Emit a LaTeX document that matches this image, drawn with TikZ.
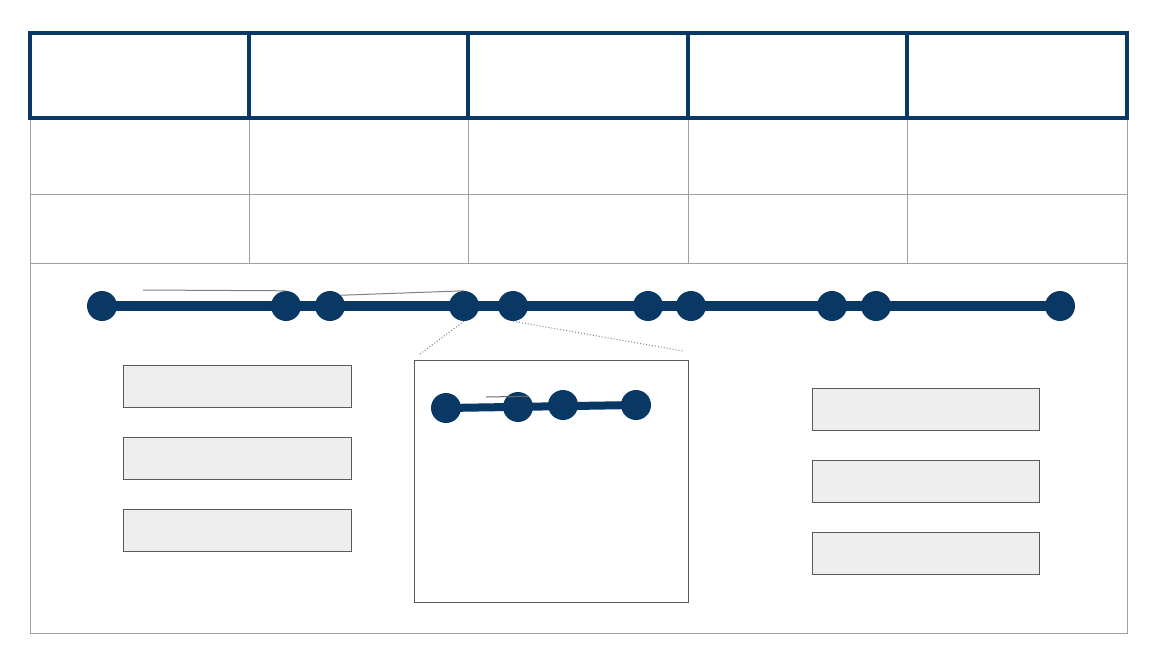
\documentclass[tikz,border=0pt]{standalone}
\usepackage{tikz}
\usepackage{xcolor}
\definecolor{navy}{RGB}{8,56,99}
\definecolor{boxgray}{RGB}{238,238,238}
\definecolor{rulegray}{RGB}{160,160,160}
\newcommand{\schedulegrid}[1]{
\draw[rulegray,line width=1pt] (30,118) rectangle (1127,633);
\draw[rulegray,line width=1pt] (30,194)--(1127,194) (30,263)--(1127,263);
\foreach \x in {#1}{
\draw[rulegray,line width=1pt] (\x,118)--(\x,263);}
\draw[navy,line width=4pt] (30,33) rectangle (1127,118);
\foreach \x in {#1}{
\draw[navy,line width=4pt] (\x,33)--(\x,118);}}

\begin{document}
\begin{tikzpicture}[x=1pt,y=-1pt,
  dot/.style={circle,fill=navy,inner sep=0pt,minimum size=30pt},
  panel/.style={draw=black!65,fill=boxgray,line width=1pt,inner sep=0pt,minimum width=228pt,minimum height=42pt}]
\useasboundingbox (0,0) rectangle (1158,657);
\schedulegrid{249,468,688,907}
%main timeline
\foreach \x [count=\i] in {102,286,330,464,513,648,691,832,876,1060}{
\node[dot] (d\i) at (\x,306) {};}
\draw[navy,line width=10pt] (d1.center)--(d10.center);
\coordinate (g1) at (143,290);
\draw[gray,line width=1pt] (g1)--(d2.north);
\draw[gray,line width=1pt] (d3.north east)--(d4.north);
%zoomed part
\node[draw=black!65,line width=1pt,inner sep=0pt,minimum width=274pt,minimum height=242pt] (inset) at (551,481) {};
\coordinate (z1) at (420,354);
\coordinate (z2) at (683,351);
\draw[gray,dotted,line width=1pt] (d4.south)--(z1);
\draw[gray,dotted,line width=1pt] (d5.south)--(z2);
\foreach \x/\y [count=\i] in {446/408,518/407,563/405,636/405}{
\node[dot] (e\i) at (\x,\y) {};}
\draw[navy,line width=8pt] (e1.center)--(e4.center);
\coordinate (g2) at (486,397);
\draw[black!60,line width=1pt] (g2)--(e2.north east);
%side boxes
\foreach \y [count=\i] in {386,458,530}{
\node[panel] (l\i) at (237,\y) {};}
\foreach \y [count=\i] in {409,481,553}{
\node[panel,minimum width=227pt] (r\i) at (925.5,\y) {};}
\end{tikzpicture}
\end{document}
